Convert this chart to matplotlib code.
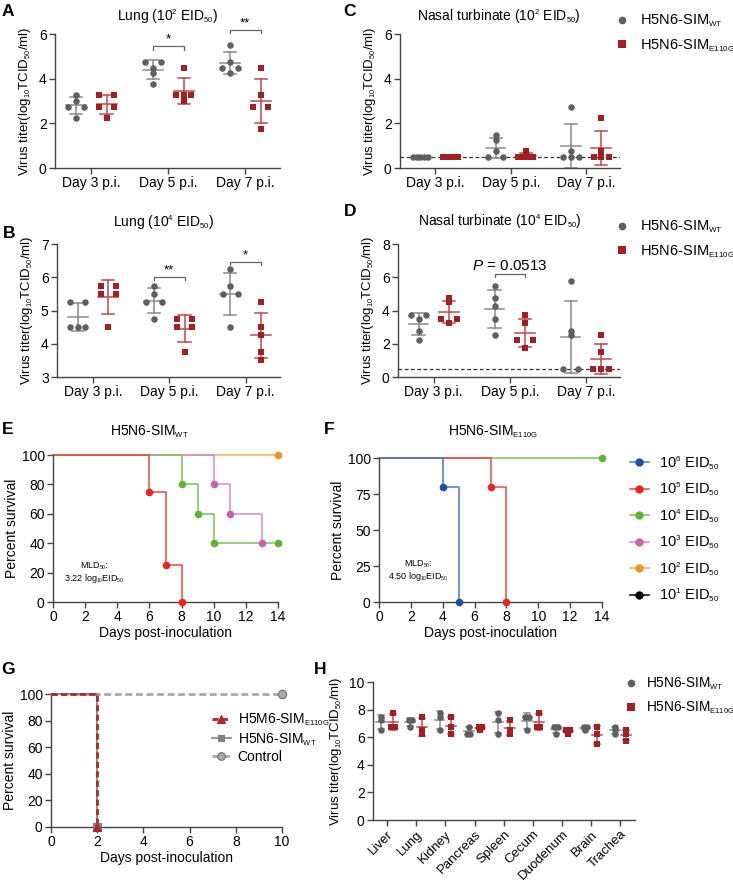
import numpy as np
import matplotlib
matplotlib.use("Agg")
import matplotlib.pyplot as plt
from matplotlib.lines import Line2D
import matplotlib._mathtext as mathtext_internal

plt.rcParams['font.family'] = ['Liberation Sans', 'DejaVu Sans']
plt.rcParams['mathtext.fontset'] = 'custom'
plt.rcParams['mathtext.rm'] = 'Liberation Sans'
plt.rcParams['mathtext.it'] = 'Liberation Sans:italic'
plt.rcParams['mathtext.default'] = 'regular'
plt.rcParams['font.size'] = 10
# the reference uses very small subscripts
mathtext_internal.SHRINK_FACTOR = 0.55

# ---------------- data ----------------
days = ["Day 3 p.i.", "Day 5 p.i.", "Day 7 p.i."]

# A: lung, 10^2 EID50
lung2_wt = [[3.25, 3.0, 2.75, 2.75, 2.25], [4.75, 4.75, 4.5, 4.25, 3.75], [5.5, 4.75, 4.5, 4.5, 4.25]]
lung2_mut = [[3.25, 3.25, 2.75, 2.75, 2.25], [4.5, 3.25, 3.25, 3.25, 3.0], [4.5, 3.25, 2.75, 2.75, 1.75]]
# C: nasal turbinate, 10^2 EID50
nasal2_wt = [[0.5, 0.5, 0.5, 0.5, 0.5], [1.5, 1.25, 0.75, 0.5, 0.5], [2.75, 0.75, 0.5, 0.5, 0.5]]
nasal2_mut = [[0.5, 0.5, 0.5, 0.5, 0.5], [0.75, 0.5, 0.5, 0.5, 0.5], [2.25, 0.75, 0.5, 0.5, 0.5]]
# B: lung, 10^4 EID50
lung4_wt = [[5.25, 5.25, 4.5, 4.5, 4.5], [5.75, 5.5, 5.25, 5.25, 4.75], [6.25, 5.75, 5.5, 5.5, 4.5]]
lung4_mut = [[5.75, 5.75, 5.5, 5.5, 4.5], [4.75, 4.75, 4.5, 4.5, 3.75], [5.25, 4.5, 4.25, 3.75, 3.5]]
# D: nasal turbinate, 10^4 EID50
nasal4_wt = [[3.75, 3.75, 3.5, 2.75, 2.25], [5.5, 4.75, 4.25, 3.5, 2.5], [5.75, 2.75, 2.5, 0.5, 0.5]]
nasal4_mut = [[4.75, 4.5, 3.5, 3.5, 3.25], [3.75, 3.25, 2.25, 2.25, 1.75], [2.5, 1.5, 0.5, 0.5, 0.5]]
detect_limit = 0.5

# E / F: survival curves (time, percent)
dose_labels = ["10$^{6}$ EID$_{50}$", "10$^{5}$ EID$_{50}$", "10$^{4}$ EID$_{50}$",
               "10$^{3}$ EID$_{50}$", "10$^{2}$ EID$_{50}$", "10$^{1}$ EID$_{50}$"]
dose_colors = ['#1f4fa0', '#e8261f', '#5cb531', '#c762b0', '#f39323', '#000000']
dose_lines = ['#4a78c8', '#f0443d', '#7cc45a', '#d58cc4', '#f5ab55', '#000000']
wt_surv = {1: ([0, 6, 7, 8], [100, 75, 25, 0]),
           2: ([0, 8, 9, 10, 14], [100, 80, 60, 40, 40]),
           3: ([0, 10, 11, 13], [100, 80, 60, 40]),
           4: ([0, 14], [100, 100])}
mut_surv = {0: ([0, 4, 5], [100, 80, 0]),
            1: ([0, 7, 8], [100, 80, 0]),
            2: ([0, 14], [100, 100])}

# G: survival
g_labels = ["H5M6-SIM$_{E110G}$", "H5N6-SIM$_{WT}$", "Control"]
g_time = [[0, 2], [0, 2], [0, 10]]
g_surv = [[100, 0], [100, 0], [100, 100]]

# H: organ titers
organs = ["Liver", "Lung", "Kidney", "Pancreas", "Spleen", "Cecum", "Duodenum", "Brain", "Trachea"]
organ_wt = [[7.5, 7.25, 6.5], [7.25, 7.25, 6.75], [7.75, 7.5, 6.5], [6.75, 6.25, 6.25], [7.75, 7.25, 6.25],
            [7.5, 7.5, 6.5], [6.75, 6.75, 6.25], [6.75, 6.75, 6.5], [6.75, 6.5, 6.25]]
organ_mut = [[7.75, 6.75, 6.75], [7.5, 6.5, 6.25], [7.5, 6.75, 6.25], [6.75, 6.75, 6.5], [7.25, 6.5, 6.25],
             [7.75, 6.75, 6.75], [6.5, 6.5, 6.25], [6.75, 6.25, 5.5], [6.5, 6.25, 5.75]]

gray = '#5f5f5f'
gray_err = '#8a8a8a'
red = '#a31f24'
red_err = '#c4474c'
axcol = '#444444'

W, H = 733, 882
fig = plt.figure(figsize=(W / 100, H / 100), dpi=100)


def add_ax(l, r, t, b):
    return fig.add_axes([l / W, 1 - b / H, (r - l) / W, (b - t) / H])


def style(ax):
    for s in ['top', 'right']:
        ax.spines[s].set_visible(False)
    for s in ['left', 'bottom']:
        ax.spines[s].set_color(axcol)
        ax.spines[s].set_linewidth(1.0)
    ax.tick_params(color=axcol, length=4, width=1.0, pad=2)


def spread(vals, center, span):
    vals = np.asarray(vals, float)
    xs = np.full(len(vals), float(center))
    for v in np.unique(vals):
        idx = np.where(vals == v)[0]
        if len(idx) > 1:
            xs[idx] = center + np.linspace(-span / 2, span / 2, len(idx))
    return xs


def dots(ax, wt, mut, off=0.2, span=0.2, mw=0.13, cw=0.08, ms=22):
    for i in range(len(wt)):
        for vals, o, c, ec, mk in [(wt[i], -off, gray, gray_err, 'o'), (mut[i], off, red, red_err, 's')]:
            xc = i + o
            ax.scatter(spread(vals, xc, span), vals, s=ms, marker=mk, color=c, linewidths=0,
                       zorder=3, clip_on=False)
            m = np.mean(vals)
            sd = np.std(vals, ddof=1)
            ax.plot([xc - mw, xc + mw], [m, m], color=ec, lw=1.1, zorder=2)
            ax.plot([xc, xc], [m - sd, m + sd], color=ec, lw=1.1, zorder=2)
            ax.plot([xc - cw, xc + cw], [m - sd, m - sd], color=ec, lw=1.1, zorder=2)
            ax.plot([xc - cw, xc + cw], [m + sd, m + sd], color=ec, lw=1.1, zorder=2)


def bracket(ax, x1, x2, y, h, label, fs=9.5, dy=0.0):
    ax.plot([x1, x1, x2, x2], [y - h, y, y, y - h], color='#666666', lw=0.9, clip_on=False)
    ax.text((x1 + x2) / 2, y + dy, label, ha='center', va='bottom', fontsize=fs, clip_on=False)


ylabel_titer = "Virus titer(log$_{10}$TCID$_{50}$/ml)"


def titer_axes(ax, ylim, ticks, title, ty, tx=0.5):
    style(ax)
    ax.set_xlim(-0.47, 2.45)
    ax.set_ylim(*ylim)
    ax.set_yticks(ticks)
    ax.set_xticks(range(3))
    ax.set_xticklabels(days)
    ax.set_ylabel(ylabel_titer, fontsize=9.5, labelpad=4)
    ax.text(tx, ty, title, transform=ax.transAxes, ha='center', va='center', fontsize=10)


# ---------- A ----------
axA = add_ax(55, 280, 34, 168)
dots(axA, lung2_wt, lung2_mut)
titer_axes(axA, (0, 6), [0, 2, 4, 6], "Lung (10$^{2}$ EID$_{50}$)", 1.127)
bracket(axA, 0.8, 1.2, 5.45, 0.15, "*", dy=0.02)
bracket(axA, 1.8, 2.2, 6.2, 0.17, "**", dy=0.02)

# ---------- C ----------
axC = add_ax(400, 620, 34, 168)
axC.axhline(detect_limit, color='#333333', lw=0.9, ls=(0, (3, 2)), zorder=1)
dots(axC, nasal2_wt, nasal2_mut)
titer_axes(axC, (0, 6), [0, 2, 4, 6], "Nasal turbinate (10$^{2}$ EID$_{50}$)", 1.127, tx=0.45)

# ---------- B ----------
axB = add_ax(57, 280, 244, 377)
dots(axB, lung4_wt, lung4_mut)
titer_axes(axB, (3, 7), [3, 4, 5, 6, 7], "Lung (10$^{4}$ EID$_{50}$)", 1.158, tx=0.48)
bracket(axB, 0.8, 1.2, 6.02, 0.1, "**", dy=0.0)
bracket(axB, 1.8, 2.2, 6.47, 0.1, "*", dy=0.0)

# ---------- D ----------
axD = add_ax(398, 620, 244, 377)
axD.axhline(detect_limit, color='#333333', lw=0.9, ls=(0, (3, 2)), zorder=1)
dots(axD, nasal4_wt, nasal4_mut)
titer_axes(axD, (0, 8), [0, 2, 4, 6, 8], "Nasal turbinate (10$^{4}$ EID$_{50}$)", 1.165, tx=0.46)
bracket(axD, 0.8, 1.2, 6.2, 0.2, "$\\mathit{P}$ = 0.0513", fs=11, dy=0.05)

# legends for C and D
wt_h = Line2D([], [], ls='none', marker='o', color=gray, markersize=5.5, markeredgewidth=0)
mut_h = Line2D([], [], ls='none', marker='s', color=red, markersize=5.5, markeredgewidth=0)
for ytop in [13, 219]:
    fig.legend([wt_h, mut_h], ["H5N6-SIM$_{WT}$", "H5N6-SIM$_{E110G}$"], loc='upper left',
               bbox_to_anchor=(615 / W, 1 - ytop / H), frameon=False, borderpad=0, borderaxespad=0,
               handlelength=1.0, handletextpad=0.7, labelspacing=0.55, fontsize=10.5)


# ---------- E / F ----------
def surv_axes(ax, title, ty, tx, yticks):
    style(ax)
    ax.set_xlim(0, 14)
    ax.set_ylim(0, 100)
    ax.set_xticks(range(0, 15, 2))
    ax.set_yticks(yticks)
    ax.set_xlabel("Days post-inoculation", labelpad=1)
    ax.set_ylabel("Percent survival", labelpad=2)
    ax.text(tx, ty, title, transform=ax.transAxes, ha='center', va='center')


def draw_surv(ax, data):
    for k in sorted(data.keys(), reverse=True):
        t, s = data[k]
        ax.step(t, s, where='post', color=dose_lines[k], lw=1.1, clip_on=False, zorder=2)
        ax.scatter(t[1:], s[1:], s=30, color=dose_colors[k], linewidths=0, zorder=3, clip_on=False)


axE = add_ax(53, 278, 455, 602)
draw_surv(axE, wt_surv)
surv_axes(axE, "H5N6-SIM$_{WT}$", 1.156, 0.43, [0, 20, 40, 60, 80, 100])
axE.text(2.58, 24.5, "MLD$_{50}$:", ha='center', va='center', fontsize=6.5)
axE.text(2.58, 16.3, "3.22 log$_{10}$EID$_{50}$", ha='center', va='center', fontsize=6.5)

axF = add_ax(379, 602, 458, 602)
draw_surv(axF, mut_surv)
surv_axes(axF, "H5N6-SIM$_{E110G}$", 1.18, 0.51, [0, 25, 50, 75, 100])
axF.text(2.48, 26.4, "MLD$_{50}$:", ha='center', va='center', fontsize=6.5)
axF.text(2.48, 17.4, "4.50 log$_{10}$EID$_{50}$", ha='center', va='center', fontsize=6.5)

dose_h = [Line2D([], [], color=dose_lines[k], marker='o', markerfacecolor=dose_colors[k],
                 markeredgewidth=0, markersize=6, lw=1.1) for k in range(6)]
fig.legend(dose_h, dose_labels, loc='upper left', bbox_to_anchor=(630 / W, 1 - 454 / H), frameon=False,
           borderpad=0, borderaxespad=0, handlelength=1.3, handletextpad=0.7, labelspacing=0.62, fontsize=10.5)

# ---------- G ----------
axG = add_ax(51, 282, 694, 827)
style(axG)
g_styles = [dict(color='#b5232a', ls=(0, (2.2, 1.2)), lw=2.0, marker='^', ms=6),
            dict(color='#7f7f7f', ls='-', lw=1.2, marker='s', ms=5.5),
            dict(color='#a8a8a8', ls=(0, (2.5, 1.3)), lw=2.0, marker='o', ms=6)]
g_handles = []
for i in [2, 1, 0]:
    st = g_styles[i]
    axG.step(g_time[i], g_surv[i], where='post', color=st['color'], ls=st['ls'], lw=st['lw'],
             clip_on=False, zorder=2 + (2 - i))
    mec = '#6f6f6f' if i == 2 else st['color']
    axG.plot(g_time[i][1:], g_surv[i][1:], ls='none', marker=st['marker'], ms=st['ms'], color=st['color'],
             markeredgecolor=mec, markeredgewidth=0.8, clip_on=False, zorder=5 + (2 - i))
for i in range(3):
    st = g_styles[i]
    mec = '#6f6f6f' if i == 2 else st['color']
    g_handles.append(Line2D([], [], color=st['color'], ls=st['ls'], lw=st['lw'], marker=st['marker'],
                            ms=st['ms'] - 0.5, markeredgecolor=mec, markeredgewidth=0.8))
axG.set_xlim(0, 10)
axG.set_ylim(0, 100)
axG.set_xticks(range(0, 11, 2))
axG.set_yticks(range(0, 101, 20))
axG.set_xlabel("Days post-inoculation", labelpad=1)
axG.set_ylabel("Percent survival", labelpad=2)
axG.legend(g_handles, g_labels, loc='upper left', bbox_to_anchor=(212 / W, 1 - 712 / H),
           bbox_transform=fig.transFigure, frameon=False, borderpad=0, borderaxespad=0,
           handlelength=1.35, handletextpad=0.5, labelspacing=0.2, fontsize=10)

# ---------- H ----------
axH = add_ax(373, 635, 682, 820)
style(axH)
dots(axH, organ_wt, organ_mut, off=0.2, span=0.12, mw=0.17, cw=0.1, ms=22)
axH.set_xlim(-0.48, 8.5)
axH.set_ylim(0, 10)
axH.set_yticks(range(0, 11, 2))
axH.set_xticks(range(len(organs)))
axH.set_xticklabels(organs, rotation=45, ha='right', rotation_mode='anchor', fontsize=9.5)
axH.set_ylabel(ylabel_titer, fontsize=9.5, labelpad=4)
fig.legend([wt_h, mut_h], ["H5N6-SIM$_{WT}$", "H5N6-SIM$_{E110G}$"], loc='upper left',
           bbox_to_anchor=(624 / W, 1 - 676 / H), frameon=False, borderpad=0, borderaxespad=0,
           handlelength=1.0, handletextpad=0.6, labelspacing=0.55, fontsize=9.8)

# panel letters
for letter, x, y in [("A", 8, 12), ("C", 349, 12), ("B", 9, 233), ("D", 350, 211),
                     ("E", 8, 429), ("F", 329, 429), ("G", 8, 669), ("H", 320, 669)]:
    fig.text(x / W, 1 - y / H, letter, fontsize=12.5, fontweight='bold', ha='center', va='center')

fig.savefig("out.png", dpi=100)
